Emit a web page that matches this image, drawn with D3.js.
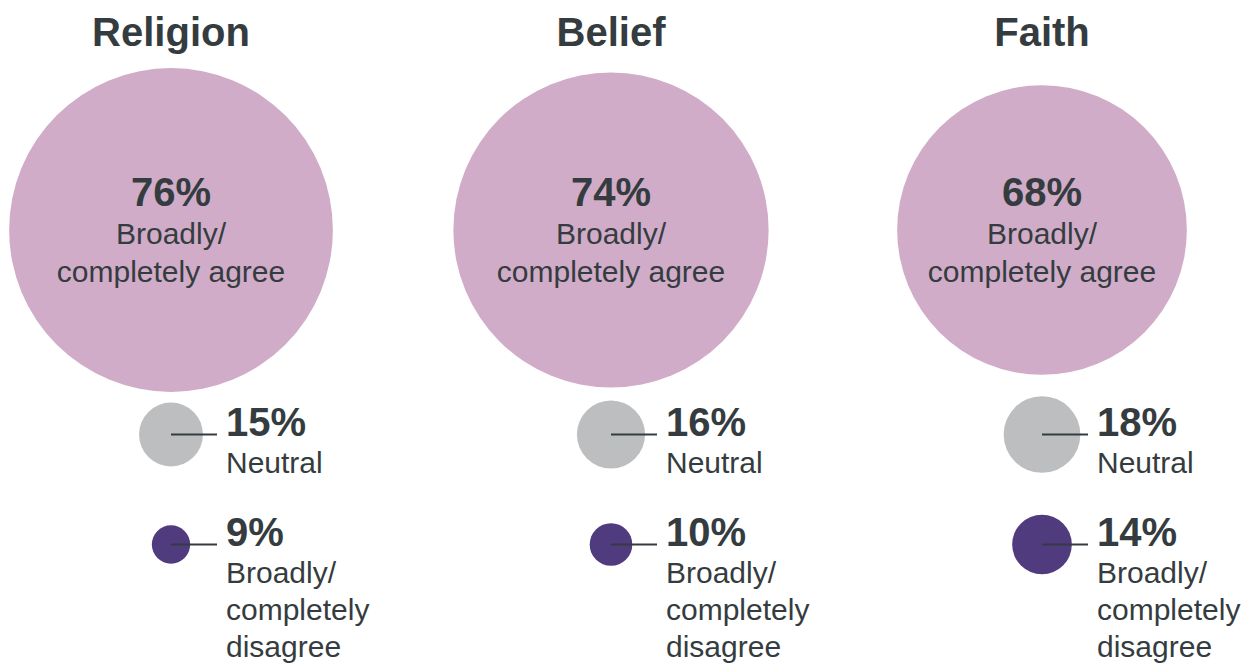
<!DOCTYPE html>
<html>
<head>
<meta charset="utf-8">
<script src="https://cdn.jsdelivr.net/npm/d3@7/dist/d3.min.js"></script>
<style>
  html, body { margin: 0; padding: 0; background: #ffffff; }
  svg { display: block; }
  text { font-family: "Liberation Sans", Arial, Helvetica, sans-serif; fill: #353c40; }
</style>
</head>
<body>
<svg id="chart" width="1249" height="664"></svg>
<script>
// Survey groups and their shares (%)
const categories = ["Religion", "Belief", "Faith"];
const agreeValues = [76, 74, 68];
const neutralValues = [15, 16, 18];
const disagreeValues = [9, 10, 14];

// Label lines
const agreeLabel = ["Broadly/", "completely agree"];
const neutralLabel = ["Neutral"];
const disagreeLabel = ["Broadly/", "completely", "disagree"];

// Colours
const colAgree = "#d0acc8";
const colNeutral = "#bdbec0";
const colDisagree = "#4f3b7e";
const colInk = "#353c40";

const svg = d3.select("#chart");

// Column centres and a linear radius scale shared by every bubble
const x = d3.scaleOrdinal().domain(categories).range([171, 611, 1042]);
const r = d3.scaleLinear().domain([0, 100]).range([0, 213]);

// Vertical positions of the three rows
const yTitle = 46;
const yAgree = 230;
const yNeutral = 434.5;
const yDisagree = 544.5;
const labelOffset = 55;

const rows = categories.map((c, i) => ({
  cat: c,
  agree: agreeValues[i],
  neutral: neutralValues[i],
  disagree: disagreeValues[i]
}));

const g = svg.selectAll("g.col").data(rows).join("g")
  .attr("class", "col")
  .attr("transform", d => `translate(${x(d.cat)},0)`);

// Titles
g.append("text")
  .attr("x", 0).attr("y", yTitle)
  .attr("text-anchor", "middle")
  .style("font-size", "40px").style("font-weight", "bold")
  .text(d => d.cat);

// Agree bubble with centred label
g.append("circle")
  .attr("cx", 0).attr("cy", yAgree)
  .attr("r", d => r(d.agree))
  .attr("fill", colAgree);

g.append("text")
  .attr("x", 0).attr("y", yAgree - 24)
  .attr("text-anchor", "middle")
  .style("font-size", "40px").style("font-weight", "bold")
  .text(d => d.agree + "%");

agreeLabel.forEach((line, k) => {
  g.append("text")
    .attr("x", 0).attr("y", yAgree + 13.5 + k * 38)
    .attr("text-anchor", "middle")
    .style("font-size", "30px")
    .text(line);
});

// Small bubbles with a leader line and side label
function smallBubble(cy, key, color, lines) {
  g.append("circle")
    .attr("cx", 0).attr("cy", cy)
    .attr("r", d => r(d[key]))
    .attr("fill", color);

  g.append("line")
    .attr("x1", 0).attr("x2", 46)
    .attr("y1", cy).attr("y2", cy)
    .attr("stroke", colInk).attr("stroke-width", 2);

  g.append("text")
    .attr("x", labelOffset).attr("y", cy + 1.5)
    .style("font-size", "40px").style("font-weight", "bold")
    .text(d => d[key] + "%");

  lines.forEach((line, k) => {
    g.append("text")
      .attr("x", labelOffset).attr("y", cy + 38 + k * 37)
      .style("font-size", "30px")
      .text(line);
  });
}

smallBubble(yNeutral, "neutral", colNeutral, neutralLabel);
smallBubble(yDisagree, "disagree", colDisagree, disagreeLabel);
</script>
</body>
</html>
